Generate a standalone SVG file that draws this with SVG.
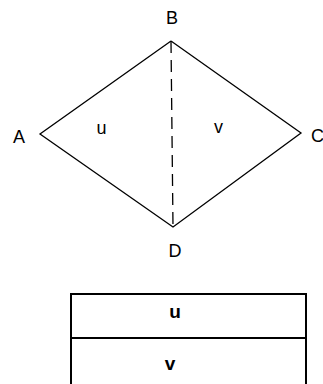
<svg xmlns="http://www.w3.org/2000/svg" width="323" height="384" viewBox="0 0 323 384">
<style>
.lbl{font-family:"Liberation Sans",Arial,sans-serif;font-size:18px;fill:#000}
.edge{stroke:#000;stroke-width:1.3;fill:none}
.tb{stroke:#000;stroke-width:2;fill:none}
.cell{font-family:"Liberation Sans",Arial,sans-serif;font-size:19px;font-weight:bold;fill:#000;text-anchor:middle}
</style>
<rect width="323" height="384" fill="#fff"/>
<g id="connectors">
<polyline class="edge" points="171,41 40,134 173,227 301,133 171,41"/>
<line class="edge" x1="171" y1="41" x2="173" y2="227" stroke-dasharray="12,7"/>
</g>
<g id="node-B"><text class="lbl" x="172" y="24" text-anchor="middle">B</text></g>
<g id="node-A"><text class="lbl" x="19" y="143" text-anchor="middle">A</text></g>
<g id="node-C"><text class="lbl" x="311" y="142">C</text></g>
<g id="node-D"><text class="lbl" x="175" y="257" text-anchor="middle">D</text></g>
<g id="label-u"><text class="lbl" x="101.5" y="134" text-anchor="middle">u</text></g>
<g id="label-v"><text class="lbl" x="218.5" y="133" text-anchor="middle">v</text></g>
<g id="table">
<polyline class="tb" points="71,390 71,294 306,294 306,390"/>
<line class="tb" x1="71" y1="338" x2="306" y2="338"/>
<text class="cell" x="175" y="318">u</text>
<text class="cell" x="170" y="370">v</text>
</g>
</svg>
